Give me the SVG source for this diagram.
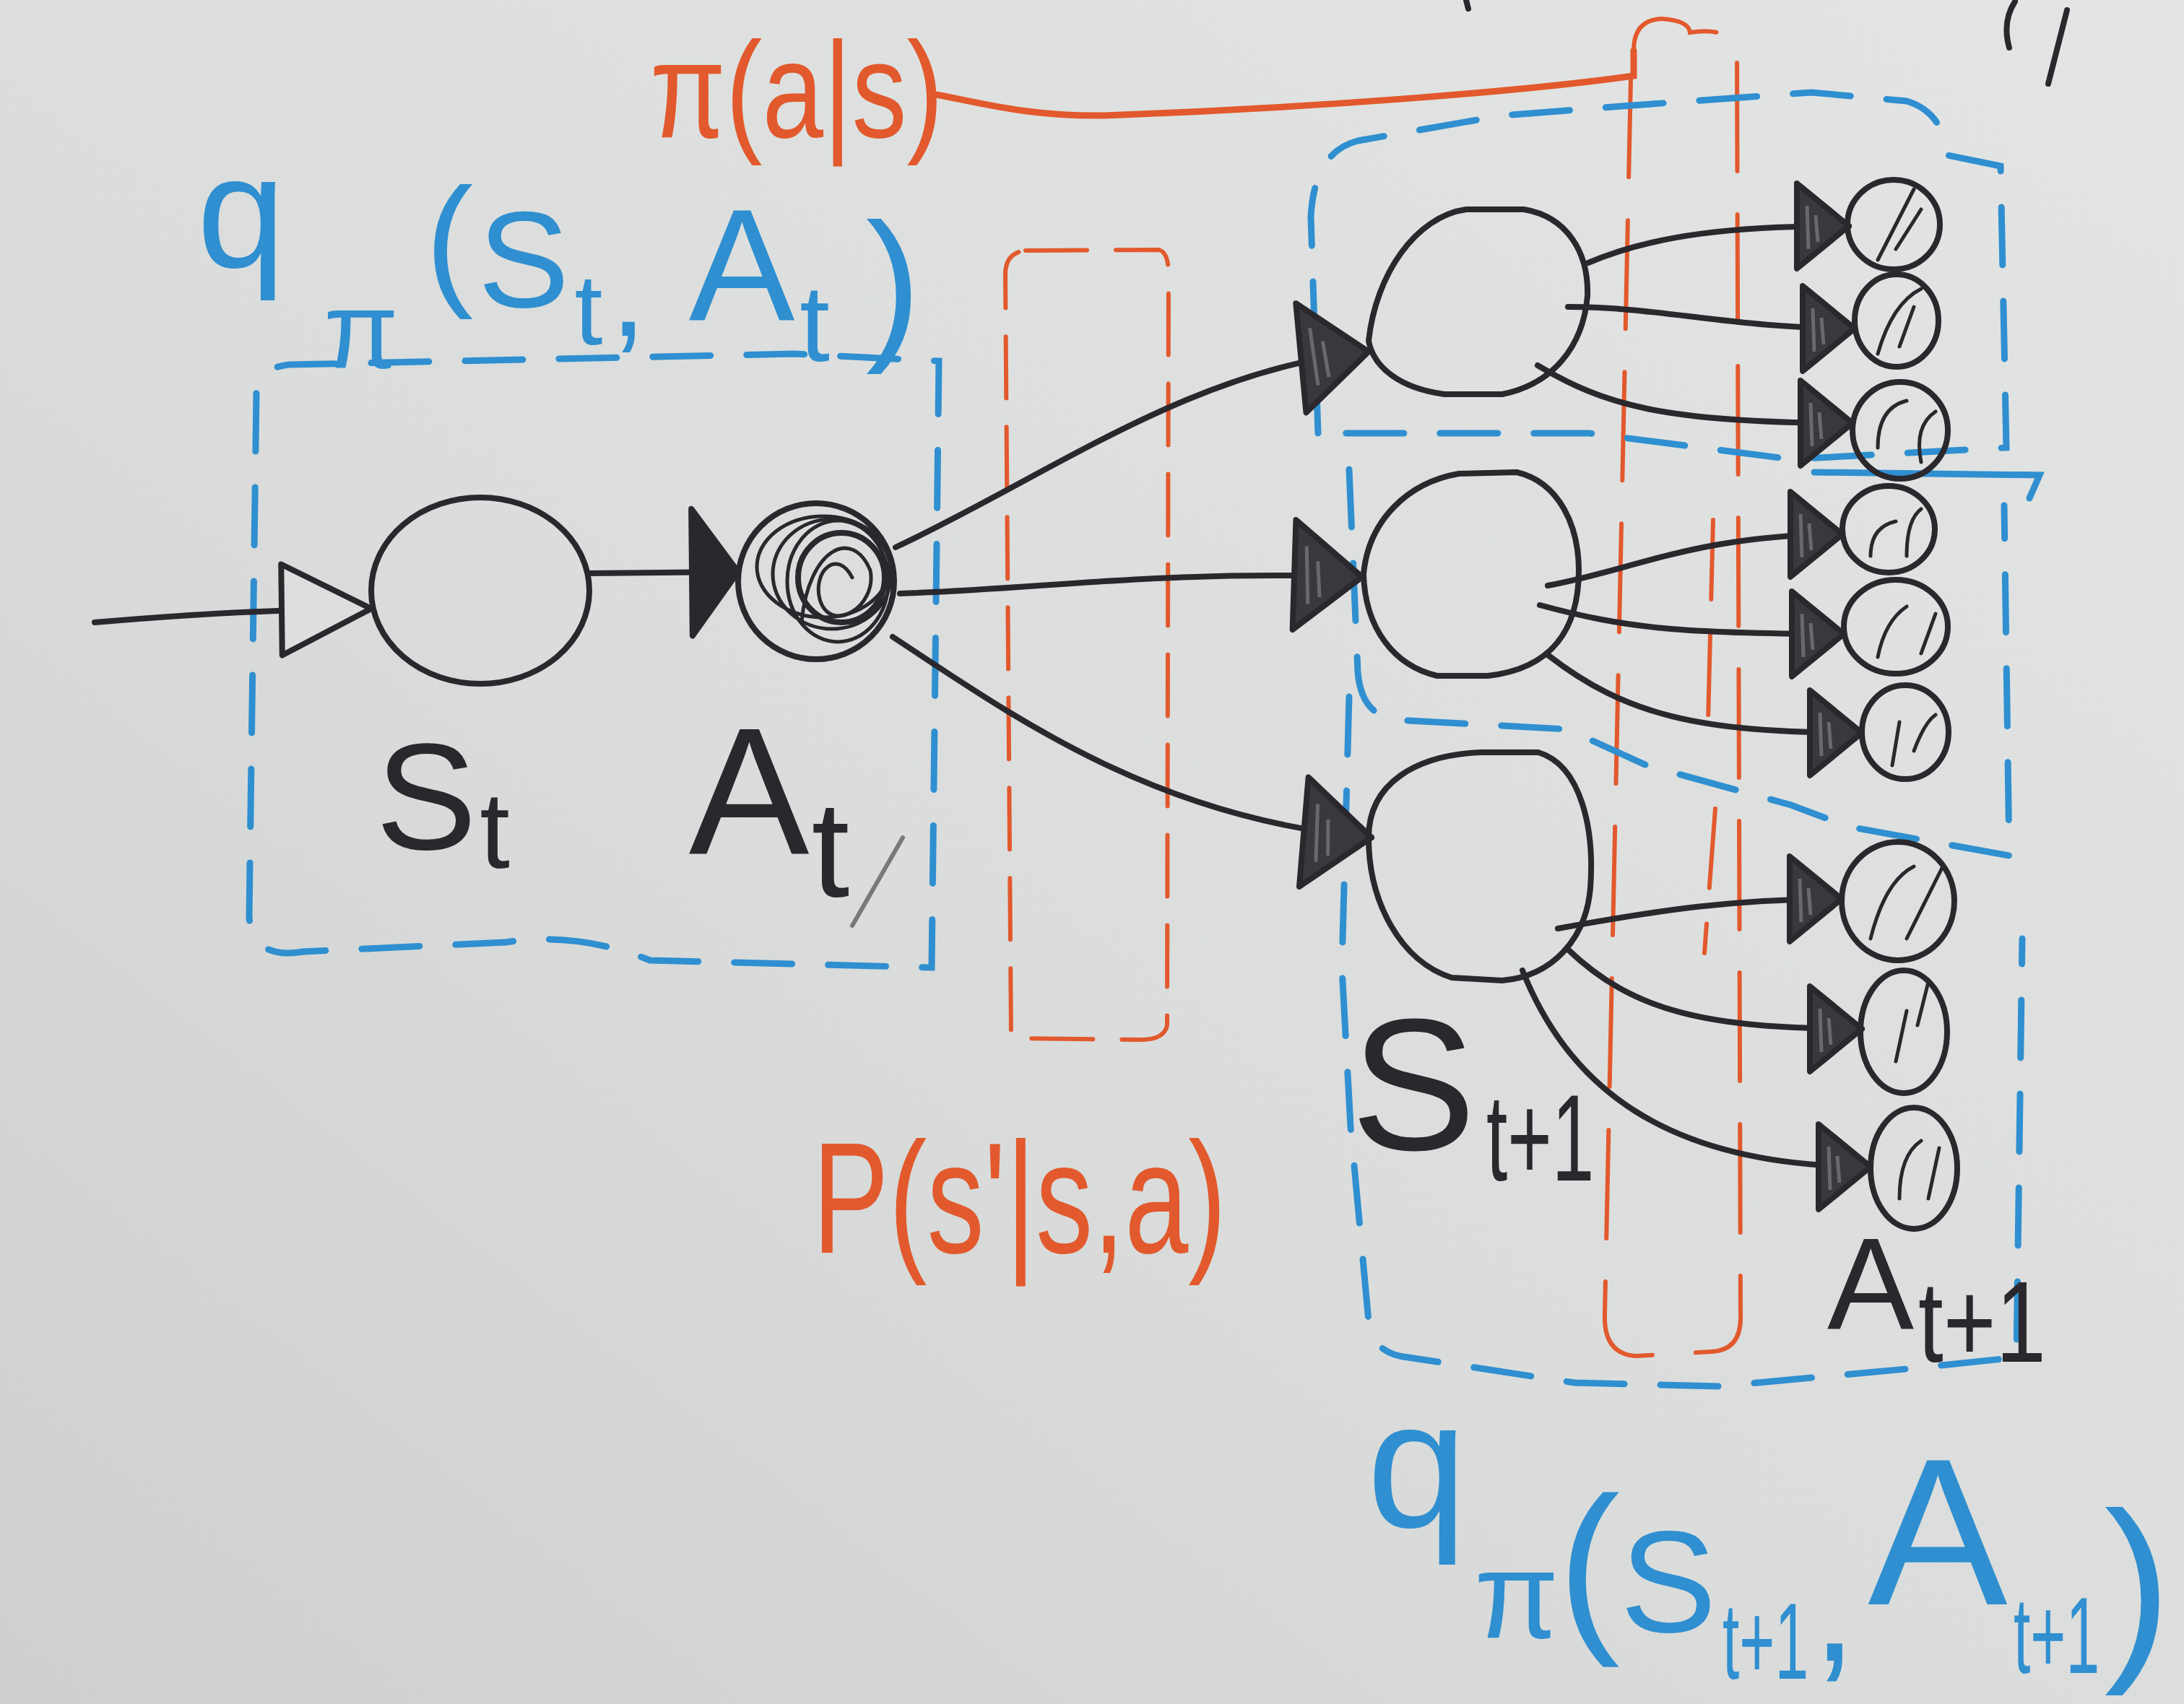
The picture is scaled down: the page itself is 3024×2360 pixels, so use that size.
<svg xmlns="http://www.w3.org/2000/svg" width="3024" height="2360" viewBox="0 0 3024 2360">
<defs>
<linearGradient id="bg" x1="1" y1="0" x2="0" y2="1">
<stop offset="0" stop-color="#e3e5e4"/>
<stop offset="0.55" stop-color="#dadddc"/>
<stop offset="1" stop-color="#cdd0cf"/>
</linearGradient>
<marker id="openTri" markerUnits="userSpaceOnUse" markerWidth="130" markerHeight="134" viewBox="0 0 130 134" refX="128" refY="67" orient="auto" overflow="visible">
<path d="M4,4 L128,67 L4,130 Z" fill="#dcdfde" stroke="#2a272d" stroke-width="8" stroke-linejoin="round"/>
</marker>
<marker id="atTri" markerUnits="userSpaceOnUse" markerWidth="70" markerHeight="184" viewBox="0 0 70 184" refX="68" refY="92" orient="auto" overflow="visible">
<path d="M4,4 L68,92 L4,180 Z" fill="#2a272d" stroke="#2a272d" stroke-width="8" stroke-linejoin="round"/>
</marker>
<marker id="sTri" markerUnits="userSpaceOnUse" markerWidth="100" markerHeight="160" viewBox="0 0 100 160" refX="98" refY="80" orient="auto" overflow="visible">
<path d="M4,4 L98,80 L4,156 Z" fill="#3a373d" stroke="#2a272d" stroke-width="8" stroke-linejoin="round"/>
<path d="M20,40 L24,120 M36,60 L40,110" stroke="#6a676d" stroke-width="5" fill="none"/>
</marker>
<marker id="leafTri" markerUnits="userSpaceOnUse" markerWidth="78" markerHeight="126" viewBox="0 0 78 126" refX="76" refY="63" orient="auto" overflow="visible">
<path d="M4,4 L76,63 L4,122 Z" fill="#3a373d" stroke="#2a272d" stroke-width="8" stroke-linejoin="round"/>
<path d="M18,35 L20,95 M30,48 L33,85" stroke="#6a676d" stroke-width="5" fill="none"/>
</marker>
</defs>
<style>
.ink{fill:none;stroke:#2a272d;stroke-width:8;stroke-linecap:round;stroke-linejoin:round}
.thin{fill:none;stroke:#2a272d;stroke-width:5;stroke-linecap:round}
.bluebox{fill:none;stroke:#2f8fd0;stroke-width:9;stroke-linecap:round;stroke-dasharray:80 50}
.bluesolid{fill:none;stroke:#2f8fd0;stroke-width:9;stroke-linecap:round}
.orbox{fill:none;stroke:#e2592d;stroke-width:6;stroke-linecap:round;stroke-dasharray:85 40}
.orbox2{fill:none;stroke:#e2592d;stroke-width:6;stroke-linecap:round;stroke-dasharray:150 60}
.orsolid{fill:none;stroke:#e2592d;stroke-width:9;stroke-linecap:round}
.conn{fill:none;stroke:#2a272d;stroke-width:8;stroke-linecap:round}
text{font-family:"Liberation Sans",Arial,sans-serif}
.t{text-anchor:middle}
.blk{fill:#2a272d}
.blu{fill:#2f8fd0}
.org{fill:#e2592d}
</style>
<rect x="0" y="0" width="3024" height="2360" fill="url(#bg)"/>

<g id="regions">
<path id="box-q-st" class="bluebox" d="M355,545 L345,1270 Q350,1330 420,1318 L700,1305 Q800,1290 900,1330 L1290,1340 L1300,500 L1100,490 L400,505 Q357,510 355,545 Z"/>
<path id="box-p" class="orbox" d="M1420,347 L1605,346 Q1618,350 1618,380 L1616,1420 Q1612,1440 1580,1440 L1400,1438 L1392,380 Q1392,350 1420,347 Z"/>
<path id="box-pi" class="orbox2" d="M2262,70 Q2262,28 2300,26 Q2338,28 2340,45 Q2385,38 2405,60 L2410,1820 Q2412,1870 2370,1872 L2265,1878 Q2220,1875 2222,1820 L2258,110"/>
<path class="orbox2" d="M2375,1120 L2360,1320 M2372,720 L2365,1000" style="stroke-dasharray:110 50"/>
<path id="box-top" class="bluebox" d="M1825,600 L1815,300 Q1820,210 1880,195 L2080,160 L2260,146 L2508,128 L2640,140 Q2690,155 2697,215 L2770,230 L2778,620 L2480,636 L2200,600 Z"/>
<path class="bluesolid" d="M2512,654 L2824,658 L2810,690"/>
<path id="box-mid" class="bluebox" d="M1868,650 L1880,930 Q1885,1000 1950,998 L2170,1010 L2280,1060 L2480,1115 L2560,1145 L2782,1185 L2775,700"/>
<path id="box-bot" class="bluebox" d="M1868,965 L1858,1340 L1870,1560 L1895,1830 Q1900,1875 1950,1880 L2180,1915 L2380,1920 L2650,1895 L2792,1880 L2800,1300"/>
</g>

<g id="connectors">
<path class="conn" d="M131,862 C250,852 350,845 514,843" marker-end="url(#openTri)"/>
<path class="conn" d="M816,794 L1022,792" marker-end="url(#atTri)"/>
<path class="conn" d="M1240,758 C1450,660 1650,510 1895,487" marker-end="url(#sTri)"/>
<path class="conn" d="M1246,822 C1450,815 1600,790 1886,799" marker-end="url(#sTri)"/>
<path class="conn" d="M1236,882 C1400,990 1600,1135 1899,1160" marker-end="url(#sTri)"/>
<path class="conn" d="M2199,364 C2290,325 2400,313 2560,313" marker-end="url(#leafTri)"/>
<path class="conn" d="M2171,425 C2300,425 2400,455 2568,455" marker-end="url(#leafTri)"/>
<path class="conn" d="M2129,506 C2220,560 2300,586 2565,586" marker-end="url(#leafTri)"/>
<path class="conn" d="M2143,811 C2260,790 2350,740 2551,740" marker-end="url(#leafTri)"/>
<path class="conn" d="M2132,838 C2250,870 2330,878 2553,878" marker-end="url(#leafTri)"/>
<path class="conn" d="M2143,907 C2250,990 2350,1015 2578,1015" marker-end="url(#leafTri)"/>
<path class="conn" d="M2157,1286 C2300,1260 2400,1245 2550,1245" marker-end="url(#leafTri)"/>
<path class="conn" d="M2171,1315 C2260,1400 2360,1425 2578,1425" marker-end="url(#leafTri)"/>
<path class="conn" d="M2108,1344 C2170,1500 2300,1616 2590,1616" marker-end="url(#leafTri)"/>
<path class="orsolid" d="M1290,130 C1350,140 1420,162 1530,160 C1800,150 2100,128 2262,105 L2262,70"/>
</g>

<g id="node-St">
<ellipse class="ink" cx="665" cy="818" rx="151" ry="129"/>
</g>
<g id="node-At">
<circle class="ink" cx="1130" cy="805" r="108"/>
<ellipse class="thin" cx="1152" cy="795" rx="82" ry="76"/>
<ellipse class="thin" cx="1160" cy="805" rx="70" ry="84"/>
<ellipse class="thin" cx="1140" cy="785" rx="92" ry="70"/>
<ellipse class="ink" cx="1165" cy="800" rx="60" ry="62"/>
<path class="thin" d="M1110,860 C1120,760 1180,730 1205,790 C1215,840 1150,880 1135,830 C1125,790 1160,760 1180,800"/>
</g>
<g id="node-S1-top">
<path class="ink" d="M1895,472 C1905,380 1960,300 2030,290 L2110,290 C2170,300 2200,350 2198,410 C2192,480 2150,532 2080,546 L2000,546 C1940,538 1902,510 1895,472 Z"/>
</g>
<g id="node-S1-mid">
<path class="ink" d="M1888,795 C1895,720 1950,668 2020,656 L2100,654 C2160,668 2186,730 2186,790 C2186,870 2150,926 2060,936 L1990,936 C1930,922 1890,870 1888,795 Z"/>
</g>
<g id="node-S1-bot">
<path class="ink" d="M1895,1160 C1895,1085 1960,1046 2050,1042 L2130,1042 C2190,1060 2208,1150 2202,1230 C2196,1300 2150,1352 2080,1358 L2010,1354 C1940,1332 1895,1250 1895,1160 Z"/>
</g>

<g id="leaf-1"><ellipse class="ink" cx="2622" cy="311" rx="64" ry="62"/><path class="thin" d="M2600,360 L2650,262 M2625,345 L2660,290"/></g>
<g id="leaf-2"><ellipse class="ink" cx="2626" cy="444" rx="58" ry="64"/><path class="thin" d="M2600,490 Q2620,420 2660,400 M2630,480 L2650,425"/></g>
<g id="leaf-3"><ellipse class="ink" cx="2631" cy="596" rx="66" ry="67"/><path class="thin" d="M2600,620 Q2600,565 2640,555 M2660,640 Q2650,590 2680,570"/></g>
<g id="leaf-4"><ellipse class="ink" cx="2615" cy="733" rx="64" ry="60"/><path class="thin" d="M2590,770 Q2590,730 2625,722 M2640,770 Q2640,720 2660,705"/></g>
<g id="leaf-5"><ellipse class="ink" cx="2625" cy="868" rx="72" ry="65"/><path class="thin" d="M2600,910 Q2610,860 2640,840 M2660,905 L2680,850"/></g>
<g id="leaf-6"><ellipse class="ink" cx="2638" cy="1014" rx="60" ry="65"/><path class="thin" d="M2620,1060 L2630,1000 M2650,1040 Q2665,1000 2680,990"/></g>
<g id="leaf-7"><ellipse class="ink" cx="2628" cy="1248" rx="78" ry="82"/><path class="thin" d="M2590,1300 Q2610,1220 2650,1200 M2640,1300 L2690,1200"/></g>
<g id="leaf-8"><ellipse class="ink" cx="2636" cy="1429" rx="60" ry="85"/><path class="thin" d="M2625,1470 L2640,1400 M2655,1420 L2670,1360"/></g>
<g id="leaf-9"><ellipse class="ink" cx="2650" cy="1618" rx="60" ry="84"/><path class="thin" d="M2630,1660 Q2630,1600 2660,1580 M2670,1660 L2685,1590"/></g>

<g id="marks">
<path d="M1250,1160 L1180,1282" fill="none" stroke="#7a787c" stroke-width="6" stroke-linecap="round"/>
<path class="ink" d="M2790,2 Q2772,30 2782,66"/>
<path class="ink" d="M2862,14 L2836,116"/>
<path class="ink" d="M2030,0 L2033,12"/>
</g>

<g id="labels">
<text class="t blu"><tspan x="334" y="370" font-size="220">q</tspan><tspan x="500" y="510" font-size="150">π</tspan><tspan x="622" y="400" font-size="200">(</tspan><tspan x="725" y="425" font-size="190">S</tspan><tspan x="815" y="477" font-size="140">t</tspan><tspan x="870" y="465" font-size="180">,</tspan><tspan x="1027" y="443" font-size="220">A</tspan><tspan x="1128" y="500" font-size="150">t</tspan><tspan x="1237" y="470" font-size="230">)</tspan></text>
<text class="org" transform="translate(900,190) scale(0.8,1)" x="0" y="0" font-size="190">π(a|s)</text>
<text class="org" transform="translate(1125,1735) scale(0.72,1)" x="0" y="0" font-size="220">P(s'|s,a)</text>
<text class="t blk"><tspan x="590" y="1176" font-size="210">S</tspan><tspan x="685" y="1202" font-size="150">t</tspan></text>
<text class="t blk"><tspan x="1037" y="1182" font-size="250">A</tspan><tspan x="1150" y="1242" font-size="190">t</tspan></text>
<text class="t blk" x="1957" y="1592" font-size="260">S</text>
<text class="blk" transform="translate(2058,1635) scale(0.62,1)" x="0" y="0" font-size="170">t+1</text>
<text class="t blk" x="2590" y="1840" font-size="180">A</text>
<text class="blk" transform="translate(2656,1886) scale(0.78,1)" x="0" y="0" font-size="160">t+1</text>
<text class="t blu"><tspan x="1962" y="2115" font-size="250">q</tspan><tspan x="2100" y="2268" font-size="170">π</tspan><tspan x="2200" y="2255" font-size="260">(</tspan><tspan x="2310" y="2260" font-size="200">S</tspan><tspan x="2540" y="2300" font-size="220">,</tspan><tspan x="2683" y="2222" font-size="290">A</tspan><tspan x="2960" y="2290" font-size="280">)</tspan></text>
<text class="blu" transform="translate(2385,2325) scale(0.56,1)" x="0" y="0" font-size="150">t+1</text>
<text class="blu" transform="translate(2788,2317) scale(0.56,1)" x="0" y="0" font-size="150">t+1</text>
</g>
</svg>
